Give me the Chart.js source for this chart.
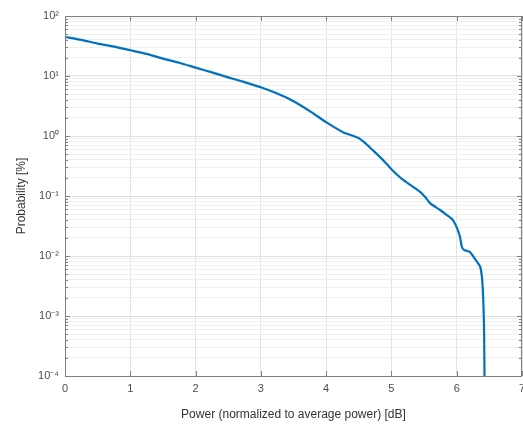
<!DOCTYPE html>
<html>
<head>
<meta charset="utf-8">
<script src="https://cdn.jsdelivr.net/npm/chart.js@4/dist/chart.umd.min.js"></script>
<style>
html,body{margin:0;padding:0;background:#fff;}
#wrap{width:523px;height:426px;}
</style>
</head>
<body>
<div id="wrap"><canvas id="c" width="523" height="426"></canvas></div>
<script>
// Power (dB, normalized to average power)
const powerDb = [0.0, 0.25, 0.5, 0.75, 1.0, 1.25, 1.5, 1.75, 2.0, 2.25, 2.5, 2.75, 3.0, 3.25, 3.5, 3.75, 4.0, 4.25, 4.5, 4.6, 4.7, 4.85, 5.0, 5.1, 5.18, 5.3, 5.44, 5.52, 5.59, 5.74, 5.85, 5.94, 6.0, 6.05, 6.08, 6.12, 6.2, 6.3, 6.36, 6.39, 6.41, 6.42, 6.425, 6.43];
// Probability (%)
const probabilityPct = [44.7, 40.0, 34.7, 30.9, 26.9, 23.4, 19.5, 16.6, 13.8, 11.5, 9.5, 7.9, 6.5, 5.1, 3.8, 2.6, 1.7, 1.17, 0.92, 0.76, 0.60, 0.42, 0.28, 0.22, 0.185, 0.15, 0.117, 0.095, 0.076, 0.059, 0.048, 0.040, 0.030, 0.021, 0.014, 0.0125, 0.0117, 0.0083, 0.0066, 0.0040, 0.0015, 0.0005, 0.00012, 0.00003];
const xTickLabels = ['0', '1', '2', '3', '4', '5', '6', '7'];
const yDecades = [1e-4, 1e-3, 1e-2, 1e-1, 1e0, 1e1, 1e2];
const yTickLabels = ['10\u207B\u2074', '10\u207B\u00B3', '10\u207B\u00B2', '10\u207B\u00B9', '10\u2070', '10\u00B9', '10\u00B2'];

const FONT = "'Liberation Sans', Arial, Helvetica, sans-serif";
const AXIS = '#808080';
const TXT = '#4d4d4d';

function decadeIndex(v) {
  for (let i = 0; i < yDecades.length; i++) {
    if (Math.abs(v / yDecades[i] - 1) < 1e-6) return i;
  }
  return -1;
}

const boxPlugin = {
  id: 'matlabBox',
  afterDraw(chart) {
    const {ctx, chartArea: a, scales} = chart;
    ctx.save();
    ctx.strokeStyle = AXIS;
    ctx.lineWidth = 1;
    ctx.beginPath();
    scales.x.ticks.forEach(t => {
      const px = Math.round(scales.x.getPixelForValue(t.value)) + 0.5;
      ctx.moveTo(px, a.bottom); ctx.lineTo(px, a.bottom - 5);
      ctx.moveTo(px, a.top); ctx.lineTo(px, a.top + 5);
    });
    scales.y.ticks.forEach(t => {
      const py = Math.round(scales.y.getPixelForValue(t.value)) + 0.5;
      const len = decadeIndex(t.value) >= 0 ? 5 : 3;
      ctx.moveTo(a.left, py); ctx.lineTo(a.left + len, py);
      ctx.moveTo(a.right, py); ctx.lineTo(a.right - len, py);
    });
    ctx.stroke();
    ctx.strokeRect(Math.round(a.left) + 0.5, Math.round(a.top) + 0.5,
      Math.round(a.right - a.left) - 1, Math.round(a.bottom - a.top));
    ctx.restore();
  }
};

new Chart(document.getElementById('c'), {
  type: 'line',
  data: {
    datasets: [{
      data: powerDb.map((x, i) => ({x: x, y: probabilityPct[i]})),
      borderColor: '#0072BD',
      borderWidth: 2.2,
      pointRadius: 0,
      tension: 0.2,
      fill: false
    }]
  },
  options: {
    responsive: false,
    animation: false,
    devicePixelRatio: 1,
    layout: {padding: {top: 16, right: 1, left: 10, bottom: 0}},
    plugins: {legend: {display: false}, tooltip: {enabled: false}},
    scales: {
      x: {
        type: 'linear',
        min: 0, max: 7,
        afterBuildTicks: s => { s.ticks = xTickLabels.map((l, i) => ({value: i})); },
        afterFit: s => { s.height = 50; s.paddingLeft = 0; s.paddingRight = 0; },
        ticks: {
          autoSkip: false,
          maxRotation: 0,
          padding: 6,
          color: TXT,
          font: {family: FONT, size: 11},
          callback: (v, i) => xTickLabels[i]
        },
        grid: {color: '#e3e3e3', drawTicks: false, lineWidth: 1},
        border: {display: false},
        title: {display: true, text: 'Power (normalized to average power) [dB]', color: '#333', font: {family: FONT, size: 12}, padding: {top: 3}}
      },
      y: {
        type: 'logarithmic',
        min: 1e-4, max: 1e2,
        afterBuildTicks: s => {
          const t = [];
          for (let k = -4; k < 2; k++) {
            for (let m = 1; m < 10; m++) t.push({value: m * Math.pow(10, k)});
          }
          t.push({value: 100});
          s.ticks = t;
        },
        afterFit: s => { s.width = 55; },
        ticks: {
          autoSkip: false,
          padding: 6,
          color: TXT,
          font: {family: FONT, size: 11},
          callback: (v) => { const i = decadeIndex(v); return i >= 0 ? yTickLabels[i] : ''; }
        },
        grid: {
          drawTicks: false,
          color: ctx => decadeIndex(ctx.tick.value) >= 0 ? '#e0e0e0' : '#efefef',
          lineWidth: 1
        },
        border: {display: false},
        title: {display: true, text: 'Probability [%]', color: '#333', font: {family: FONT, size: 12}, padding: {bottom: 4}}
      }
    }
  },
  plugins: [boxPlugin]
});
</script>
</body>
</html>
